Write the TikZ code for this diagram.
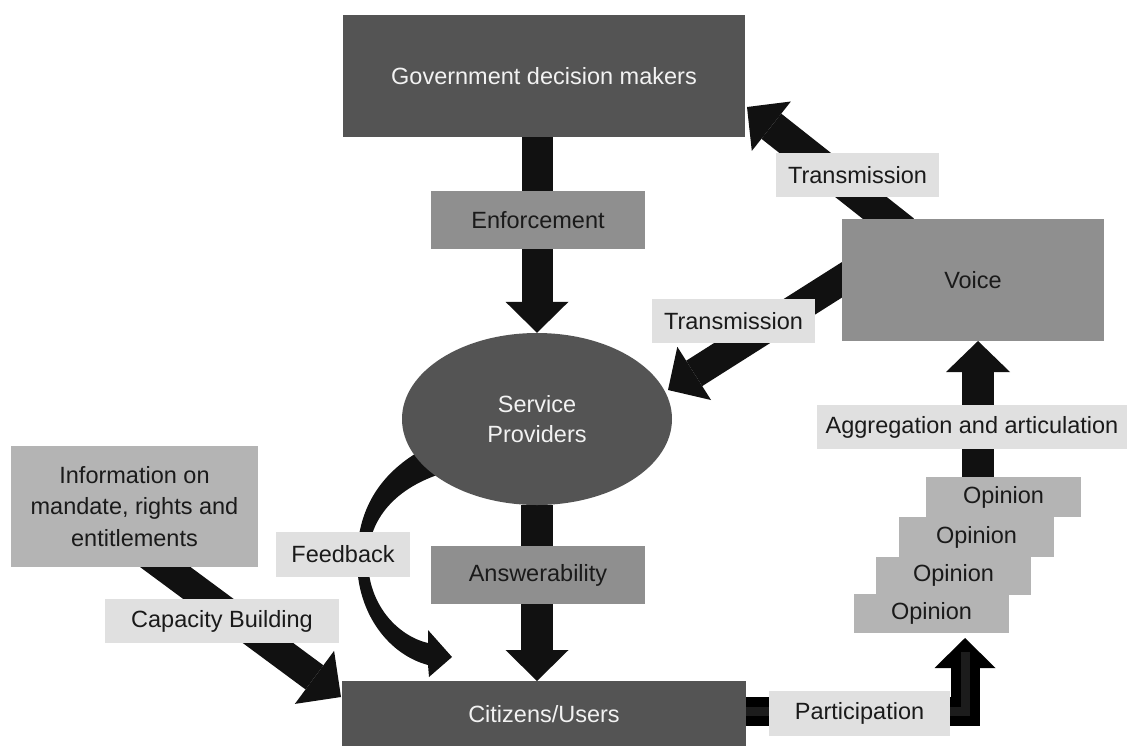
\documentclass[tikz,border=0pt]{standalone}
\usepackage{fontspec}
\setmainfont{Liberation Sans}
\usetikzlibrary{arrows.meta,shapes.geometric}
\pgfdeclarelayer{bg}
\pgfsetlayers{bg,main}
\definecolor{dk}{HTML}{545454}
\definecolor{md}{HTML}{8F8F8F}
\definecolor{lm}{HTML}{B4B4B4}
\definecolor{lt}{HTML}{E0E0E0}
\definecolor{arr}{HTML}{111111}
\definecolor{inr}{HTML}{1C1C1C}
\definecolor{txt}{HTML}{1A1A1A}
\definecolor{wt}{HTML}{F2F2F2}
\tikzset{
  box/.style={rectangle, inner sep=0pt, outer sep=0pt, text=txt, align=center,
    font=\fontsize{23.5}{31.5}\selectfont},
  darkbox/.style={box, fill=dk, text=wt},
  midbox/.style={box, fill=md},
  opbox/.style={box, fill=lm, minimum width=155pt},
  lbl/.style={box, fill=lt, minimum height=44pt},
  blk/.style={draw=arr, line width=31pt},
  bhead/.style={-{Triangle[width=63pt,length=31pt,line width=0pt]}}
}
\begin{document}
\begin{tikzpicture}[x=1pt,y=-1pt]
\useasboundingbox (0,0) rectangle (1130,745);
% nodes
\node[darkbox, minimum width=402pt, minimum height=122pt] (gov) at (544,76) {Government decision makers};
\node[midbox, minimum width=214pt, minimum height=58pt] (enf) at (538,220) {Enforcement};
\node[ellipse, fill=dk, text=wt, inner sep=0pt, minimum width=270pt, minimum height=172pt,
  align=center, font=\fontsize{23.5}{30}\selectfont] (sp) at (537,419) {Service\\Providers};
\node[midbox, minimum width=214pt, minimum height=58pt] (ans) at (538,575) {Answerability};
\node[darkbox, minimum width=404pt, minimum height=66pt] (cit) at (544,714) {Citizens/Users};
\node[box, fill=lm, minimum width=247pt, minimum height=121pt] (info) at (134.5,506.5) {Information on\\mandate, rights and\\entitlements};
\node[lbl, minimum width=234pt] (cap) at (222,621) {Capacity Building};
\node[lbl, minimum width=134pt, minimum height=45pt] (fb) at (343,554.5) {Feedback};
\node[midbox, minimum width=262pt, minimum height=122pt] (voice) at (973,280) {Voice};
\node[lbl, minimum width=163pt] (tr1) at (857.5,175) {Transmission};
\node[lbl, minimum width=163pt] (tr2) at (733.5,321) {Transmission};
\node[lbl, minimum width=310pt] (agg) at (972,427) {Aggregation and articulation};
\node[opbox, minimum height=40pt] (op1) at (1003.5,497) {Opinion};
\node[opbox, minimum height=40pt] (op2) at (976.5,537) {Opinion};
\node[opbox, minimum height=38pt] (op3) at (953.5,575.5) {Opinion};
\node[opbox, minimum height=39pt] (op4) at (931.5,613.5) {Opinion};
\node[lbl, minimum width=181pt, minimum height=45pt] (part) at (859.5,713.5) {Participation};
% connector end points
\coordinate (t1s) at (904,231);
\coordinate (t1e) at (747,107);
\coordinate (t2s) at (859,269);
\coordinate (t2e) at (668,390);
\coordinate (ops) at (978,490);
\coordinate (ope) at (978,341);
\coordinate (pst) at (745,711);
\coordinate (pte) at (965,638);
\coordinate (pin) at (965,652);
\coordinate (cbs) at (149,555);
\coordinate (cbe) at (341,697);
\coordinate (fbs) at (418,452);
\coordinate (fbe) at (452,657);
\begin{pgfonlayer}{bg}
\fill[white] (0,0) rectangle (1130,745);
\draw[blk, bhead] (gov.south -| sp.north) -- (sp.north);
\draw[blk, line width=32pt, bhead] (sp.south) -- (cit.north -| sp.south);
\draw[blk, line width=32pt, bhead] (t1s) -- (t1e);
\draw[blk, line width=30pt, bhead] (t2s) -- (t2e);
\draw[blk, line width=32pt, -{Triangle[width=64pt,length=31pt,line width=0pt]}] (ops) -- (ope);
\draw[blk, line width=30pt, -{Triangle[width=66pt,length=33pt,line width=0pt]}] (cbs) -- (cbe);
\draw[draw=black, line width=29pt, -{Triangle[width=61pt,length=30pt,line width=0pt]}] (pst) -| (pte);
\draw[draw=inr, line width=9pt] (pst) -| (pin);
% feedback: tapered curved arrow
\fill[arr] (fbs) .. controls (375,478) and (357,515) .. (357,560)
  .. controls (357,615) and (390,655) .. (428,665) -- (429,677) -- (fbe)
  -- (428,630) -- (428,643) .. controls (398,636) and (368,605) .. (368,560)
  .. controls (368,522) and (392,490) .. (440,474) -- cycle;
\end{pgfonlayer}
\end{tikzpicture}
\end{document}
